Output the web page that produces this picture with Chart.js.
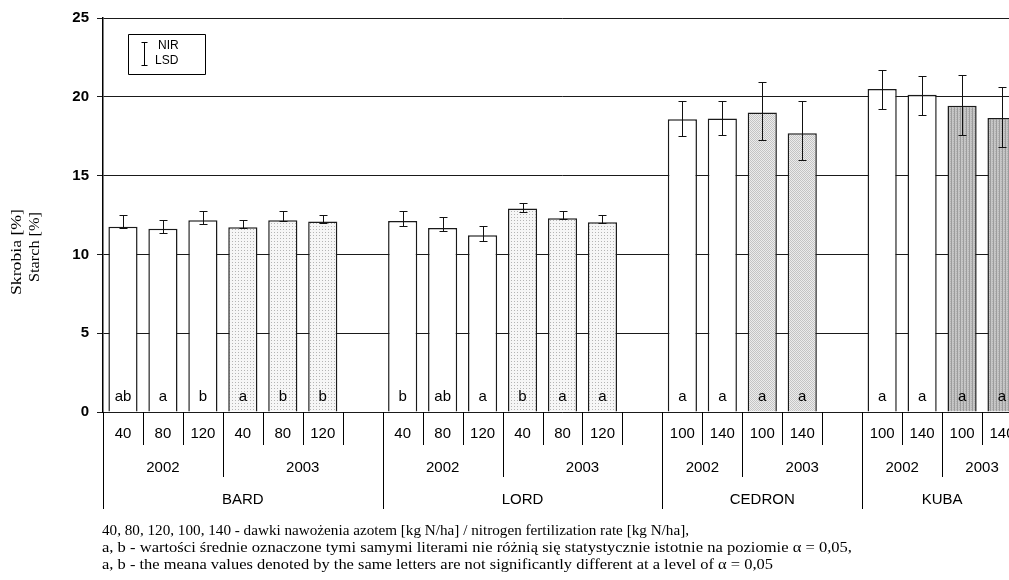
<!DOCTYPE html>
<html>
<head>
<meta charset="utf-8">
<script src="https://cdn.jsdelivr.net/npm/chart.js@4.4.0/dist/chart.umd.min.js"></script>
<style>
  html, body { margin: 0; padding: 0; background: #fff; overflow: hidden; }
  #wrap { position: relative; width: 1009px; height: 580px; overflow: hidden; }
  canvas { position: absolute; left: 0; top: 0; }
  .note {
    position: absolute; left: 102px;
    font: 14px "Liberation Serif", "Times New Roman", serif; color: #000;
    white-space: nowrap; transform-origin: 0 50%;
  }
</style>
</head>
<body>
<div id="wrap">
  <canvas id="chart" width="1030" height="580"></canvas>
  <div class="note" data-w="587" style="top:522.5px">40, 80, 120, 100, 140 - dawki nawożenia azotem [kg N/ha] / nitrogen fertilization rate [kg N/ha],</div>
  <div class="note" data-w="750" style="top:539.5px">a, b - wartości średnie oznaczone tymi samymi literami nie różnią się statystycznie istotnie na poziomie α = 0,05,</div>
  <div class="note" data-w="671" style="top:556.5px">a, b - the meana values denoted by the same letters are not significantly different at a level of α = 0,05</div>
</div>
<script>
// dawki N (puste = przerwa między odmianami)
const doses = ['40', '80', '120', '40', '80', '120', '',
  '40', '80', '120', '40', '80', '120', '',
  '100', '140', '100', '140', '',
  '100', '140', '100', '140'];
const starch = [11.76, 11.63, 12.16, 11.72, 12.16, 12.08, null,
  12.12, 11.68, 11.21, 12.91, 12.29, 12.04, null,
  18.58, 18.62, 19.00, 17.69, null,
  20.49, 20.13, 19.43, 18.65];
// NIR / LSD whiskers (not symmetric in the source)
const lsdHigh = [12.48, 12.21, 12.76, 12.21, 12.76, 12.48, null,
  12.76, 12.36, 11.78, 13.27, 12.78, 12.48, null,
  19.75, 19.73, 20.95, 19.73, null,
  21.72, 21.31, 21.38, 20.61];
const lsdLow = [11.68, 11.38, 11.91, 11.70, 12.10, 11.97, null,
  11.80, 11.49, 10.85, 12.72, 12.25, 11.99, null,
  17.54, 17.56, 17.23, 16.00, null,
  19.20, 18.84, 17.56, 16.80];
const letters = ['ab', 'a', 'b', 'a', 'b', 'b', '',
  'b', 'ab', 'a', 'b', 'a', 'a', '',
  'a', 'a', 'a', 'a', '',
  'a', 'a', 'a', 'a'];
const years = ['2002', '2003', '2002', '2003', '2002', '2003', '2002', '2003'];
const yearBounds = [0, 3, 7, 10, 14, 16, 19, 21, 23];
const varieties = ['BARD', 'LORD', 'CEDRON', 'KUBA'];
const varietyBounds = [0, 7, 14, 19, 23];
const yTicks = [0, 5, 10, 15, 20, 25];

// footnotes: stretch each line to the width it has in the source
document.querySelectorAll('.note').forEach((el) => {
  const w = el.getBoundingClientRect().width;
  el.style.transform = `scaleX(${Number(el.dataset.w) / w})`;
});

function makePattern(w, h, paint) {
  const c = document.createElement('canvas');
  c.width = w;
  c.height = h;
  paint(c.getContext('2d'));
  return c.getContext('2d').createPattern(c, 'repeat');
}

const patterns = {
  light: makePattern(3, 3, (g) => {
    g.fillStyle = '#f6f6f6'; g.fillRect(0, 0, 3, 3);
    g.fillStyle = '#b4b4b4'; g.fillRect(1, 1, 1, 1);
  }),
  medium: makePattern(2, 2, (g) => {
    g.fillStyle = '#ececec'; g.fillRect(0, 0, 2, 2);
    g.fillStyle = '#c4c4c4'; g.fillRect(0, 0, 1, 1); g.fillRect(1, 1, 1, 1);
  }),
  dark: makePattern(3, 2, (g) => {
    g.fillStyle = '#c6c6c6'; g.fillRect(0, 0, 3, 2);
    g.fillStyle = '#9c9c9c'; g.fillRect(0, 0, 1, 2);
    g.fillStyle = '#b4b4b4'; g.fillRect(2, 1, 1, 1);
  }),
};
const patternFor = { BARD: patterns.light, LORD: patterns.light, CEDRON: patterns.medium, KUBA: patterns.dark };

function yearOf(i) {
  for (let k = 0; k < years.length; ++k) {
    if (i >= yearBounds[k] && i < yearBounds[k + 1]) return years[k];
  }
  return '';
}
function varietyOf(i) {
  for (let k = 0; k < varieties.length; ++k) {
    if (i >= varietyBounds[k] && i < varietyBounds[k + 1]) return varieties[k];
  }
  return '';
}

const barFills = doses.map((_, i) => (yearOf(i) === '2003' ? patternFor[varietyOf(i)] : '#ffffff'));

// rotated text, stretched along its length to `len` px
function stretchedText(ctx, text, cx, cy, len) {
  ctx.save();
  ctx.translate(cx, cy);
  ctx.rotate(-Math.PI / 2);
  ctx.scale(len / ctx.measureText(text).width, 1);
  ctx.fillText(text, 0, 0);
  ctx.restore();
}

const annotatePlugin = {
  id: 'annotate',
  afterDatasetsDraw(chart) {
    const { ctx, chartArea, scales: { y } } = chart;
    const meta = chart.getDatasetMeta(0);
    ctx.save();
    // whiskers
    ctx.strokeStyle = '#111';
    ctx.lineWidth = 1;
    meta.data.forEach((bar, i) => {
      if (lsdHigh[i] == null) return;
      const x = Math.round(bar.x) + 0.5;
      const yh = Math.round(y.getPixelForValue(lsdHigh[i])) + 0.5;
      const yl = Math.round(y.getPixelForValue(lsdLow[i])) + 0.5;
      ctx.beginPath();
      ctx.moveTo(x, yh); ctx.lineTo(x, yl);
      ctx.moveTo(x - 4, yh); ctx.lineTo(x + 4, yh);
      ctx.moveTo(x - 4, yl); ctx.lineTo(x + 4, yl);
      ctx.stroke();
    });
    // letters in bars
    ctx.fillStyle = '#000';
    ctx.font = '15px "Liberation Sans", Arial, sans-serif';
    ctx.textAlign = 'center';
    ctx.textBaseline = 'middle';
    meta.data.forEach((bar, i) => {
      if (letters[i]) ctx.fillText(letters[i], bar.x, chartArea.bottom - 15);
    });
    ctx.restore();
  },
  afterDraw(chart) {
    const { ctx, chartArea } = chart;
    const n = doses.length;
    const w = (chartArea.right - chartArea.left) / n;
    const bx = (i) => Math.round(chartArea.left + i * w) + 0.5;
    const base = chartArea.bottom;
    ctx.save();
    ctx.strokeStyle = '#000';
    ctx.lineWidth = 1;
    ctx.beginPath();
    for (let i = 0; i <= n; ++i) {
      let bottom = base + 33;
      if (yearBounds.includes(i)) bottom = base + 65;
      if (varietyBounds.includes(i)) bottom = base + 97;
      ctx.moveTo(bx(i), base);
      ctx.lineTo(bx(i), bottom);
    }
    ctx.stroke();

    ctx.fillStyle = '#000';
    ctx.font = '15px "Liberation Sans", Arial, sans-serif';
    ctx.textAlign = 'center';
    ctx.textBaseline = 'middle';
    doses.forEach((d, i) => {
      if (d) ctx.fillText(d, chartArea.left + (i + 0.5) * w, base + 22);
    });
    years.forEach((yr, k) => {
      const c = chartArea.left + (yearBounds[k] + yearBounds[k + 1]) / 2 * w;
      ctx.fillText(yr, c, base + 56);
    });
    varieties.forEach((v, k) => {
      const c = chartArea.left + (varietyBounds[k] + varietyBounds[k + 1]) / 2 * w;
      ctx.fillText(v, c, base + 88);
    });

    // legend box
    ctx.beginPath();
    ctx.rect(128.5, 34.5, 77, 40);
    ctx.moveTo(144.5, 42.5); ctx.lineTo(144.5, 65.5);
    ctx.moveTo(141.5, 42.5); ctx.lineTo(147.5, 42.5);
    ctx.moveTo(141.5, 65.5); ctx.lineTo(147.5, 65.5);
    ctx.stroke();
    ctx.font = '12px "Liberation Sans", Arial, sans-serif';
    ctx.textAlign = 'left';
    ctx.fillText('NIR', 158, 46);
    ctx.fillText('LSD', 155, 61);

    // y axis title
    ctx.font = '15px "Liberation Serif", "Times New Roman", serif';
    ctx.textAlign = 'center';
    stretchedText(ctx, 'Skrobia [%]', 17, 252, 86);
    stretchedText(ctx, 'Starch [%]', 35, 247, 70);
    ctx.restore();
  },
};

new Chart(document.getElementById('chart'), {
  type: 'bar',
  data: {
    labels: doses,
    datasets: [{
      data: starch,
      backgroundColor: barFills,
      borderColor: '#1a1a1a',
      borderWidth: 1.5,
      barPercentage: 0.73,
      categoryPercentage: 1,
    }],
  },
  plugins: [annotatePlugin],
  options: {
    responsive: false,
    animation: false,
    layout: { padding: { left: 0, right: 8, top: 18, bottom: 0 } },
    plugins: {
      legend: { display: false },
      tooltip: { enabled: false },
    },
    scales: {
      x: {
        grid: { display: false },
        border: { display: false },
        ticks: { display: false },
        afterFit: (s) => { s.height = 168; },
      },
      y: {
        min: 0,
        max: 25,
        afterBuildTicks: (s) => { s.ticks = yTicks.map((v) => ({ value: v })); },
        ticks: {
          color: '#000',
          padding: 8,
          font: { family: '"Liberation Sans", Arial, sans-serif', size: 15, weight: 'bold' },
        },
        grid: { color: '#1a1a1a', lineWidth: 1, tickLength: 6 },
        border: { color: '#000', width: 1.5 },
        afterFit: (s) => { s.width = 103; },
      },
    },
  },
});
</script>
</body>
</html>
